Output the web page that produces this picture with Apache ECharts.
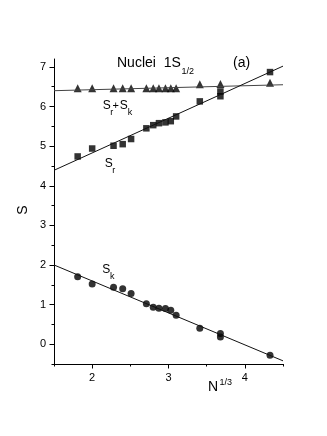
<!DOCTYPE html>
<html>
<head>
<meta charset="UTF-8">
<title>Nuclei 1S1/2</title>
<style>
  html, body { margin: 0; padding: 0; background: #fff; }
</style>
</head>
<body>
<div id="main" style="width:327px;height:436px;"></div>
<script src="https://cdn.jsdelivr.net/npm/echarts@6/dist/echarts.min.js"></script>
<script>
// N^(1/3) of each nucleus (x)
var nThird = [1.81, 2.00, 2.28, 2.40, 2.51, 2.71, 2.80, 2.875, 2.96, 3.03, 3.10, 3.41, 3.68, 3.68, 4.33];
var sK     = [1.70, 1.52, 1.44, 1.40, 1.28, 1.02, 0.93, 0.91, 0.90, 0.86, 0.73, 0.40, 0.27, 0.18, -0.28];
var sR     = [4.74, 4.94, 5.01, 5.05, 5.18, 5.45, 5.53, 5.58, 5.60, 5.63, 5.75, 6.13, 6.38, 6.26, 6.87];
// Sr+Sk points (one per nucleus, no duplicate at 3.68)
var nThirdSum = [1.81, 2.00, 2.28, 2.40, 2.51, 2.71, 2.80, 2.875, 2.96, 3.03, 3.10, 3.41, 3.68, 4.33];
var sSum      = [6.46, 6.46, 6.46, 6.46, 6.46, 6.46, 6.46, 6.46, 6.46, 6.46, 6.46, 6.56, 6.57, 6.60];
// straight-line fits, end points
var fitK   = [[1.5, 2.00], [4.5, -0.42]];
var fitR   = [[1.5, 4.39], [4.5, 7.02]];
var fitSum = [[1.5, 6.40], [4.5, 6.55]];
// ticks
var xMajor = [2, 3, 4];
var xMinor = [1.5, 2.5, 3.5, 4.5];
var yMajor = [0, 1, 2, 3, 4, 5, 6, 7];
var yMinor = [-0.5, 0.5, 1.5, 2.5, 3.5, 4.5, 5.5, 6.5];

function pairs(xs, ys) {
    var out = [];
    for (var i = 0; i < xs.length; i++) out.push([xs[i], ys[i]]);
    return out;
}

var FONT = '"Liberation Sans", Arial, sans-serif';
var chart = echarts.init(document.getElementById('main'));

function txt(x, y, s, size, align, rot) {
    return {
        type: 'text',
        x: x, y: y,
        rotation: rot || 0,
        style: { text: s, font: size + 'px ' + FONT, fill: '#000',
                 textAlign: align || 'left', textVerticalAlign: 'middle' }
    };
}

function valueAxis(pos, min, max, major, minor, isMinor) {
    return {
        type: 'value', position: pos, min: min, max: max,
        axisLine: { show: !isMinor, onZero: false, lineStyle: { color: '#000', width: 1 } },
        axisTick: { show: true, inside: false, length: isMinor ? 2.5 : 4.5,
                    customValues: isMinor ? minor : major,
                    lineStyle: { color: '#000', width: 1 } },
        axisLabel: { show: !isMinor, customValues: major, margin: 8,
                     color: '#000', fontSize: 11, fontFamily: FONT },
        splitLine: { show: false }
    };
}

var option = {
    animation: false,
    backgroundColor: '#fff',
    grid: { left: 54, right: 44, top: 59, bottom: 72 },
    xAxis: [
        valueAxis('bottom', 1.5, 4.5, xMajor, xMinor, false),
        valueAxis('bottom', 1.5, 4.5, xMajor, xMinor, true)
    ],
    yAxis: [
        valueAxis('left', -0.5, 7.2, yMajor, yMinor, false),
        valueAxis('left', -0.5, 7.2, yMajor, yMinor, true)
    ],
    series: [
        { type: 'line', data: fitSum, symbol: 'none', lineStyle: { color: '#444', width: 1 } },
        { type: 'line', data: fitR, symbol: 'none', lineStyle: { color: '#111', width: 1 } },
        { type: 'line', data: fitK, symbol: 'none', lineStyle: { color: '#111', width: 1 } },
        { type: 'scatter', data: pairs(nThirdSum, sSum), symbol: 'triangle', symbolSize: 8,
          itemStyle: { color: '#000' } },
        { type: 'scatter', data: pairs(nThird, sR), symbol: 'rect', symbolSize: 6.5,
          itemStyle: { color: '#000' } },
        { type: 'scatter', data: pairs(nThird, sK), symbol: 'circle', symbolSize: 7,
          itemStyle: { color: '#000' } }
    ],
    graphic: [
        txt(117, 63, 'Nuclei  1S', 14),
        txt(181.5, 72, '1/2', 9),
        txt(233, 63, '(a)', 14),
        // Sr+Sk
        txt(102.7, 105.8, 'S', 12),
        txt(110.3, 112.5, 'r', 9),
        txt(112.5, 105.8, '+', 11),
        txt(119.8, 105.8, 'S', 12),
        txt(127.8, 112.5, 'k', 9),
        // Sr
        txt(104.8, 163.3, 'S', 12),
        txt(112.3, 171, 'r', 9),
        // Sk
        txt(102.3, 269.5, 'S', 12),
        txt(110, 276.5, 'k', 9),
        // axis titles
        txt(208, 386.7, 'N', 14),
        txt(219.5, 382.5, '1/3', 9),
        txt(23, 210, 'S', 14, 'center', Math.PI / 2)
    ]
};
chart.setOption(option);
</script>
</body>
</html>
